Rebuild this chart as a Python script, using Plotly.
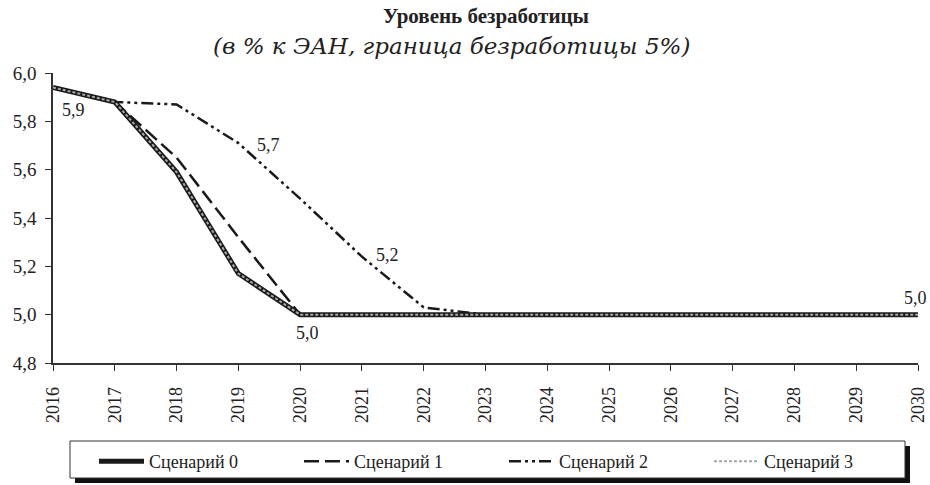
import plotly.graph_objects as go

years = list(range(2016, 2031))
s0 = [5.94, 5.88, 5.59, 5.17, 5.0, 5.0, 5.0, 5.0, 5.0, 5.0, 5.0, 5.0, 5.0, 5.0, 5.0]
s1 = [5.94, 5.88, 5.65, 5.32, 5.0, 5.0, 5.0, 5.0, 5.0, 5.0, 5.0, 5.0, 5.0, 5.0, 5.0]
s2 = [5.94, 5.88, 5.87, 5.71, 5.48, 5.24, 5.03, 5.0, 5.0, 5.0, 5.0, 5.0, 5.0, 5.0, 5.0]
s3 = list(s0)
names = ["Сценарий 0", "Сценарий 1", "Сценарий 2", "Сценарий 3"]
y_ticks = [4.8, 5.0, 5.2, 5.4, 5.6, 5.8, 6.0]

FONT = "Liberation Serif"
fig = go.Figure()
fig.add_trace(go.Scatter(x=years, y=s1, mode="lines", name=names[1], legendrank=2,
                         line=dict(color="#1a1a1a", width=2.5, dash="15px,6px")))
fig.add_trace(go.Scatter(x=years, y=s2, mode="lines", name=names[2], legendrank=3,
                         line=dict(color="#1a1a1a", width=2.5, dash="12px,4px,3px,4px,3px,4px")))
fig.add_trace(go.Scatter(x=years, y=s0, mode="lines", name=names[0], legendrank=1,
                         line=dict(color="#1a1a1a", width=5)))
fig.add_trace(go.Scatter(x=years, y=s3, mode="lines", name=names[3], legendrank=4,
                         line=dict(color="#a8a8a8", width=2, dash="3px,2px")))

labels = [(0, s0, 20, -22), (3, s2, 30, -2), (5, s2, 26, 2), (4, s0, 7, -18), (14, s0, -3, 17)]
for i, arr, dx, dy in labels:
    fig.add_annotation(x=years[i], y=arr[i], text=f"{arr[i]:.1f}".replace(".", ","),
                       showarrow=False, xshift=dx, yshift=dy,
                       font=dict(family=FONT, size=18, color="#222"))

W, H = 865, 290
def px(xp):
    return (xp - 53) / W
def py(yp):
    return (363 - yp) / H

fig.add_annotation(x=0.5, y=1, xref="paper", yref="paper", yshift=43, yanchor="bottom",
                   text="<b>Уровень безработицы</b>", showarrow=False,
                   font=dict(family=FONT, size=21, color="#222"))
fig.add_annotation(x=px(451), y=1, xref="paper", yref="paper", yshift=12, yanchor="bottom",
                   text="<i>(в % к ЭАН, граница безработицы 5%)</i>", showarrow=False,
                   font=dict(family="DejaVu Serif", size=23, color="#222"))

# legend box with shadow
fig.add_shape(type="rect", xref="paper", yref="paper", x0=px(75), x1=px(910),
              y0=py(483), y1=py(446), fillcolor="#111", line=dict(width=0), layer="below")
fig.add_shape(type="rect", xref="paper", yref="paper", x0=px(70), x1=px(905),
              y0=py(478), y1=py(441), fillcolor="white", line=dict(width=1, color="#333"),
              layer="below")

fig.update_layout(
    width=930, height=485,
    margin=dict(l=53, r=12, t=73, b=122, autoexpand=False),
    paper_bgcolor="white", plot_bgcolor="white",
    separators=", ",
    font=dict(family=FONT, size=16, color="#222"),
    showlegend=True,
    legend=dict(orientation="h", x=px(94), xanchor="left", y=py(443), yanchor="top",
                borderwidth=0, bgcolor="rgba(0,0,0,0)", itemwidth=45,
                entrywidth=145, entrywidthmode="pixels",
                font=dict(family=FONT, size=18, color="#222")),
    xaxis=dict(range=[2016, 2030], tickmode="array", tickvals=years,
               ticktext=[f"{y}&nbsp;&nbsp;" for y in years], tickangle=-90, automargin=False,
               showline=True, linecolor="#333", linewidth=1.5, ticks="outside",
               ticklen=6, tickcolor="#333", showgrid=False, zeroline=False,
               tickfont=dict(family=FONT, size=18)),
    yaxis=dict(range=[4.8, 6.0], tickmode="array", tickvals=y_ticks, automargin=False,
               ticktext=[f"{v:.1f}".replace(".", ",") for v in y_ticks],
               showline=True, linecolor="#333", linewidth=1.5, ticks="outside",
               ticklen=6, tickcolor="#333", showgrid=False, zeroline=False,
               ticklabelstandoff=5, tickfont=dict(family=FONT, size=19)),
)
fig.write_html("out.html", config={"displayModeBar": False},
               post_script=["document.body.style.margin='0';"])
